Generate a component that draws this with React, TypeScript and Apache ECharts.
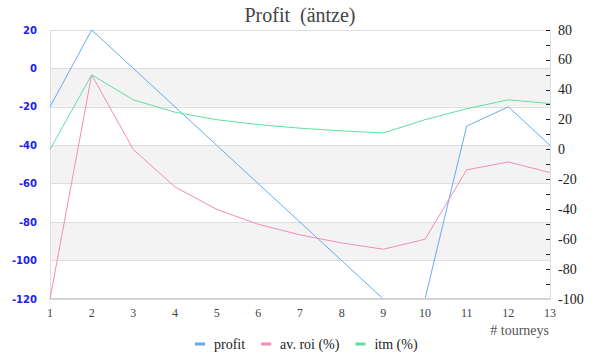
import React, { useEffect, useRef } from "react";
import * as echarts from "echarts";

const tourneys = ["1", "2", "3", "4", "5", "6", "7", "8", "9", "10", "11", "12", "13"];
const profit = [-20, 20, 0, -20, -40, -60, -80, -100, -120, -120, -30, -20, -40];
const avRoi = [-100, 50, 0, -25, -40, -50, -57.1, -62.5, -66.7, -60, -13.6, -8.3, -15.4];
const itm = [0, 50, 33.3, 25, 20, 16.7, 14.3, 12.5, 11.1, 20, 27.3, 33.3, 30.8];

const SERIF = "'Liberation Serif', 'DejaVu Serif', serif";

export default function App() {
  const ref = useRef<HTMLDivElement>(null);
  useEffect(() => {
    if (!ref.current) return;
    const chart = echarts.init(ref.current, undefined, { renderer: "svg" });
    chart.setOption({
      animation: false,
      title: {
        text: "Profit  (äntze)",
        left: "center",
        top: 0,
        textStyle: { fontFamily: SERIF, fontSize: 20, fontWeight: "normal", color: "#444" },
      },
      legend: {
        top: 332,
        left: 190,
        icon: "rect",
        itemWidth: 10,
        itemHeight: 3,
        itemGap: 16,
        textStyle: { fontFamily: SERIF, fontSize: 14, color: "#222", padding: [0, 0, 0, 4] },
        data: ["profit", "av. roi (%)", "itm (%)"],
      },
      graphic: [
        {
          type: "text",
          right: 51,
          top: 323,
          style: { text: "# tourneys", font: "14px 'Liberation Serif', serif", fill: "#555" },
        },
      ],
      grid: { left: 50, right: 50, top: 30, bottom: 61 },
      xAxis: {
        type: "category",
        data: tourneys,
        boundaryGap: false,
        z: 5,
        axisLine: { show: true, onZero: false, lineStyle: { color: "#d4d4d4", width: 2 } },
        axisTick: { show: false },
        axisLabel: { fontFamily: SERIF, fontSize: 12, color: "#444", margin: 8 },
        splitLine: { show: false },
      },
      yAxis: [
        {
          type: "value",
          min: -120,
          max: 20,
          interval: 20,
          axisLine: { show: true, lineStyle: { color: "#ddd" } },
          axisTick: { show: false },
          axisLabel: {
            fontFamily: "'DejaVu Sans', sans-serif",
            fontSize: 10,
            fontWeight: "bold",
            color: "#2020f0",
            margin: 13,
          },
          splitLine: { show: true, lineStyle: { color: "#ddd" } },
          splitArea: { show: true, areaStyle: { color: ["#ffffff", "#f3f3f3"] } },
        },
        {
          type: "value",
          min: -100,
          max: 80,
          interval: 10,
          position: "right",
          axisLine: { show: true, lineStyle: { color: "#ddd" } },
          axisTick: { show: true, inside: true, length: 4, lineStyle: { color: "#222" } },
          axisLabel: {
            fontFamily: SERIF,
            fontSize: 14,
            color: "#222",
            margin: 8,
            formatter: (v: number) => (v % 20 === 0 ? String(v) : ""),
          },
          splitLine: { show: false },
        },
      ],
      series: [
        {
          name: "profit",
          type: "line",
          yAxisIndex: 0,
          data: profit,
          showSymbol: false,
          symbol: "none",
          lineStyle: { width: 1, color: "#66aaf0" },
          itemStyle: { color: "#66aaf0" },
        },
        {
          name: "av. roi (%)",
          type: "line",
          yAxisIndex: 1,
          data: avRoi,
          showSymbol: false,
          symbol: "none",
          lineStyle: { width: 1, color: "#f08cbc" },
          itemStyle: { color: "#f08cbc" },
        },
        {
          name: "itm (%)",
          type: "line",
          yAxisIndex: 1,
          data: itm,
          showSymbol: false,
          symbol: "none",
          lineStyle: { width: 1, color: "#5ee0a0" },
          itemStyle: { color: "#5ee0a0" },
        },
      ],
    });
    return () => chart.dispose();
  }, []);
  return (
    <div ref={ref} style={{ position: "absolute", left: 0, top: 0, width: 600, height: 360 }} />
  );
}
